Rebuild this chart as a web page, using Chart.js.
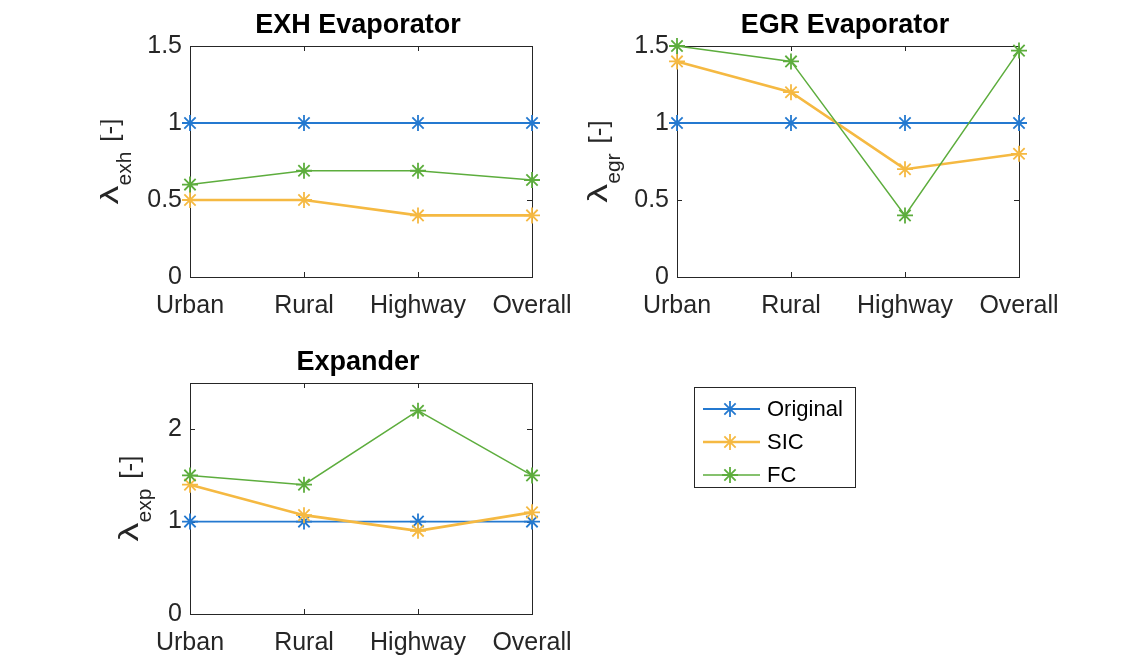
<!DOCTYPE html>
<html>
<head>
<meta charset="utf-8">
<script src="https://cdn.jsdelivr.net/npm/chart.js@4/dist/chart.umd.min.js"></script>
<style>
    body { margin: 0; background: #fff; width: 1137px; height: 655px; overflow: hidden; position: relative; }
    canvas { position: absolute; }
</style>
</head>
<body>
<canvas id="exhChart" width="490" height="330" style="left:100px;top:0px"></canvas>
<canvas id="egrChart" width="557" height="330" style="left:580px;top:0px"></canvas>
<canvas id="expChart" width="800" height="325" style="left:100px;top:330px"></canvas>
<script>
const categories = ["Urban", "Rural", "Highway", "Overall"];
const seriesNames = ["Original", "SIC", "FC"];

// EXH Evaporator
const exhOriginal = [1, 1, 1, 1];
const exhSIC = [0.5, 0.5, 0.4, 0.4];
const exhFC = [0.6, 0.69, 0.69, 0.63];

// EGR Evaporator
const egrOriginal = [1, 1, 1, 1];
const egrSIC = [1.4, 1.2, 0.7, 0.8];
const egrFC = [1.5, 1.4, 0.4, 1.47];

// Expander
const expOriginal = [1, 1, 1, 1];
const expSIC = [1.4, 1.07, 0.9, 1.1];
const expFC = [1.5, 1.4, 2.2, 1.5];

const evapTicks = [0, 0.5, 1, 1.5];
const expTicks = [0, 1, 2];

const FONT = "'Liberation Sans', Arial, Helvetica, sans-serif";
const colors = ["#2479d0", "#f5b942", "#5dad3d"];
const widths = [1.8, 2.6, 1.5];
const AXIS = "#262626";

function makeDatasets(values) {
    return values.map((v, i) => ({
        label: seriesNames[i],
        data: v,
        borderColor: colors[i],
        backgroundColor: colors[i],
        borderWidth: widths[i],
        pointStyle: "star",
        pointRadius: 8,
        pointBorderWidth: 1.8,
        pointBorderColor: colors[i],
        tension: 0,
        clip: false,
        order: 2 - i
    }));
}

// box, inward ticks, title, y label and (optionally) legend
const framePlugin = {
    id: "frame",
    beforeDatasetsDraw(chart) {
        const { ctx, chartArea: a, scales: { x, y } } = chart;
        ctx.save();
        ctx.strokeStyle = AXIS;
        ctx.lineWidth = 1;
        ctx.strokeRect(Math.round(a.left) + 0.5, Math.round(a.top) + 0.5,
            Math.round(a.right - a.left), Math.round(a.bottom - a.top));
        ctx.beginPath();
        x.ticks.forEach((t, i) => {
            const px = Math.round(x.getPixelForTick(i)) + 0.5;
            ctx.moveTo(px, a.bottom); ctx.lineTo(px, a.bottom - 5);
            ctx.moveTo(px, a.top); ctx.lineTo(px, a.top + 5);
        });
        y.ticks.forEach((t) => {
            const py = Math.round(y.getPixelForValue(t.value)) + 0.5;
            ctx.moveTo(a.left, py); ctx.lineTo(a.left + 5, py);
            ctx.moveTo(a.right, py); ctx.lineTo(a.right - 5, py);
        });
        ctx.stroke();
        ctx.restore();
    },
    afterDraw(chart, args, opts) {
        const { ctx, chartArea: a } = chart;
        ctx.save();
        // title
        ctx.fillStyle = "#000";
        ctx.font = "bold 27px " + FONT;
        ctx.textAlign = "center";
        ctx.textBaseline = "alphabetic";
        ctx.fillText(opts.title, (a.left + a.right) / 2 - 3, a.top - 13);

        // y label: lambda with subscript, rotated
        ctx.fillStyle = AXIS;
        const lamFont = "28px " + FONT;
        const mainFont = "26px " + FONT;
        const subFont = "21px " + FONT;
        const lamScale = 1.35;
        ctx.font = lamFont;
        const wL = ctx.measureText("\u03bb").width * lamScale;
        ctx.font = mainFont;
        const wB = ctx.measureText("[-]").width;
        ctx.font = subFont;
        const wS = ctx.measureText(opts.sub).width;
        const gap = 10;
        const total = wL + wS + gap + wB;
        ctx.translate(a.left - opts.labelOffset, (a.top + a.bottom) / 2);
        ctx.rotate(-Math.PI / 2);
        ctx.textAlign = "left";
        let cx = -total / 2;
        ctx.save();
        ctx.translate(cx, 0);
        ctx.scale(lamScale, 1);
        ctx.font = lamFont;
        ctx.fillText("\u03bb", 0, 0);
        ctx.restore();
        cx += wL;
        ctx.font = subFont;
        ctx.fillText(opts.sub, cx, 13);
        cx += wS + gap;
        ctx.font = mainFont;
        ctx.fillText("[-]", cx, 0);
        ctx.restore();

        if (opts.legend) {
            const L = opts.legend;
            ctx.save();
            ctx.fillStyle = "#fff";
            ctx.fillRect(L.x, L.y, L.w, L.h);
            ctx.strokeStyle = AXIS;
            ctx.lineWidth = 1;
            ctx.strokeRect(L.x + 0.5, L.y + 0.5, L.w, L.h);
            ctx.font = "22px " + FONT;
            ctx.textBaseline = "middle";
            ctx.textAlign = "left";
            chart.data.datasets.forEach((ds, i) => {
                const ry = L.y + 22 + i * 33;
                ctx.strokeStyle = ds.borderColor;
                ctx.lineWidth = ds.borderWidth;
                ctx.beginPath();
                ctx.moveTo(L.x + 9, ry); ctx.lineTo(L.x + 66, ry);
                ctx.stroke();
                ctx.lineWidth = 1.8;
                Chart.helpers.drawPoint(ctx, { pointStyle: "star", radius: 8, borderWidth: 1.8 }, L.x + 36, ry);
                ctx.fillStyle = "#000";
                ctx.fillText(ds.label, L.x + 73, ry + 1);
            });
            ctx.restore();
        }
    }
};

function makeChart(id, values, cfg) {
    return new Chart(document.getElementById(id), {
        type: "line",
        data: { labels: categories, datasets: makeDatasets(values) },
        options: {
            responsive: false,
            animation: false,
            events: [],
            layout: { padding: { left: 0, top: cfg.top, right: cfg.right, bottom: 0 } },
            plugins: {
                legend: { display: false },
                tooltip: { enabled: false },
                frame: { title: cfg.title, sub: cfg.sub, labelOffset: cfg.labelOffset, legend: cfg.legend }
            },
            scales: {
                x: {
                    offset: false,
                    grid: { display: false, drawTicks: false },
                    border: { display: false },
                    ticks: { font: { size: 25, family: FONT }, color: AXIS, padding: 14, maxRotation: 0, autoSkip: false },
                    afterFit: (s) => { s.height = cfg.xh; }
                },
                y: {
                    min: 0,
                    max: cfg.max,
                    grid: { display: false, drawTicks: false },
                    border: { display: false },
                    afterBuildTicks: (s) => { s.ticks = cfg.ticks.map((v) => ({ value: v })); },
                    ticks: {
                        font: { size: 25, family: FONT }, color: AXIS, padding: 8,
                        callback: (v) => String(v)
                    },
                    afterFit: (s) => { s.width = cfg.yw; }
                }
            }
        },
        plugins: [framePlugin]
    });
}

makeChart("exhChart", [exhOriginal, exhSIC, exhFC], {
    title: "EXH Evaporator", sub: "exh", max: 1.5, ticks: evapTicks,
    top: 46, right: 58, yw: 90, xh: 53, labelOffset: 72
});
makeChart("egrChart", [egrOriginal, egrSIC, egrFC], {
    title: "EGR Evaporator", sub: "egr", max: 1.5, ticks: evapTicks,
    top: 46, right: 118, yw: 97, xh: 53, labelOffset: 70
});
makeChart("expChart", [expOriginal, expSIC, expFC], {
    title: "Expander", sub: "exp", max: 2.5, ticks: expTicks,
    top: 53, right: 368, yw: 90, xh: 41, labelOffset: 52,
    legend: { x: 594, y: 57, w: 161, h: 100 }
});
</script>
</body>
</html>
